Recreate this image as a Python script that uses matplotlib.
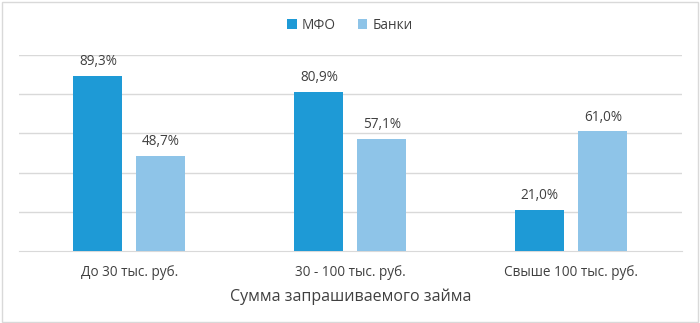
import numpy as np
import matplotlib.pyplot as plt
from matplotlib.patches import Rectangle

categories = ["До 30 тыс. руб.", "30 - 100 тыс. руб.", "Свыше 100 тыс. руб."]
mfo = [89.3, 80.9, 21.0]
banks = [48.7, 57.1, 61.0]
series_names = ["МФО", "Банки"]
x_label = "Сумма запрашиваемого займа"

plt.rcParams['font.family'] = ['Open Sans', 'DejaVu Sans']
text_color = "#404040"

fig = plt.figure(figsize=(7, 3.23), dpi=100)
ax = fig.add_axes([0.027, 0.2229, 0.947, 0.6068])

x = np.arange(len(categories))
w = 0.222
off = 0.1425
b1 = ax.bar(x - off, mfo, w, color="#1E9AD6", label=series_names[0], zorder=3)
b2 = ax.bar(x + off, banks, w, color="#8EC4E8", label=series_names[1], zorder=3)

for bars, vals in ((b1, mfo), (b2, banks)):
    for r, v in zip(bars, vals):
        ax.annotate(f"{v:.1f}%".replace(".", ","),
                    (r.get_x() + r.get_width() / 2, v),
                    xytext=(0, 5), textcoords="offset points",
                    ha="center", va="bottom", fontsize=9.8, color=text_color)

ax.set_xlim(-0.5, 2.5)
ax.set_ylim(0, 100)
ax.set_yticks([20, 40, 60, 80, 100])
ax.yaxis.grid(True, color="#D9D9D9", linewidth=1, zorder=0)
ax.tick_params(axis="y", left=False, labelleft=False)
ax.tick_params(axis="x", length=0, pad=10, labelsize=9.8, colors=text_color)
ax.set_xticks(x)
ax.set_xticklabels(categories)
for s in ("top", "left", "right"):
    ax.spines[s].set_visible(False)
ax.spines["bottom"].set_color("#D9D9D9")
ax.set_xlabel(x_label, fontsize=11.5, color=text_color, labelpad=6)

fig.legend(loc="center", bbox_to_anchor=(0.5, 0.922), ncol=2, frameon=False,
           fontsize=9.8, handlelength=0.7, handleheight=0.7, columnspacing=1.6,
           handletextpad=0.4, labelcolor=text_color)

fig.patches.append(Rectangle((0.003, 0.004), 0.994, 0.99, transform=fig.transFigure,
                             fill=False, edgecolor="#D9D9D9", linewidth=1))

fig.savefig("out.png", dpi=100)
